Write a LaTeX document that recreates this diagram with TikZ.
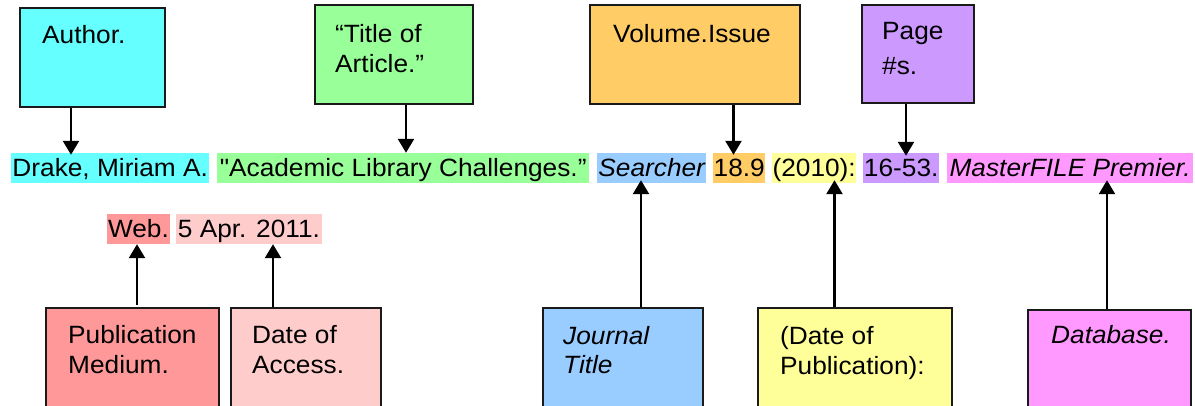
\documentclass[tikz,border=0pt]{standalone}
\usepackage{fontspec}
\setmainfont{Liberation Sans}[FakeStretch=1.05, Ligatures=TeXOff]
\usetikzlibrary{arrows.meta}
\definecolor{cCyan}{HTML}{66FFFF}
\definecolor{cGreen}{HTML}{99FF99}
\definecolor{cOrange}{HTML}{FFCC66}
\definecolor{cPurple}{HTML}{CC99FF}
\definecolor{cBlue}{HTML}{99CCFF}
\definecolor{cYellow}{HTML}{FFFF99}
\definecolor{cMagenta}{HTML}{FF99FF}
\definecolor{cRed}{HTML}{FF9999}
\definecolor{cPink}{HTML}{FFCCCC}
\definecolor{cBorder}{HTML}{1A1A1A}
\begin{document}
\begin{tikzpicture}[x=1pt,y=-1pt,
  box/.style={draw=cBorder, line width=2pt, rectangle, inner sep=0pt},
  lbl/.style={anchor=north west, inner sep=0pt, align=left, font=\fontsize{25}{30}\selectfont},
  hl/.style={anchor=base west, inner xsep=0pt, inner ysep=0pt, text height=24pt, text depth=6pt, font=\fontsize{25}{30}\selectfont},
  arr/.style={line width=2.5pt, black, -{Triangle[width=16pt,length=14pt]}}]
\useasboundingbox (0,0) rectangle (1195,406);
\clip (0,0) rectangle (1195,406);
\fill[white] (0,0) rectangle (1195,406);

% top boxes
\node[box, fill=cCyan,   minimum width=145pt, minimum height=99pt] (author) at (92.5,57.5) {};
\node[box, fill=cGreen,  minimum width=158pt, minimum height=99pt] (title)  at (394,54.5) {};
\node[box, fill=cOrange, minimum width=210pt, minimum height=99pt] (volume) at (695,54.5) {};
\node[box, fill=cPurple, minimum width=112pt, minimum height=98pt] (page)   at (918,54) {};
\node[lbl] (authorT) at (42,25) {Author.};
\node[lbl] (titleT)  at (335,24) {“Title of\\Article.”};
\node[lbl] (volumeT) at (613,24) {Volume.Issue};
\node[lbl] (pageT)   at (882,22) {Page\\[5pt]\#s.};

% bottom boxes
\node[box, fill=cRed,     minimum width=173pt, minimum height=122pt] (pub)      at (132.5,369) {};
\node[box, fill=cPink,    minimum width=150pt, minimum height=122pt] (access)   at (306,369) {};
\node[box, fill=cBlue,    minimum width=160pt, minimum height=122pt] (journal)  at (623,369) {};
\node[box, fill=cYellow,  minimum width=194pt, minimum height=122pt] (datepub)  at (855,369) {};
\node[box, fill=cMagenta, minimum width=163pt, minimum height=120pt] (database) at (1109.5,370) {};
\node[lbl] (pubT)      at (68,325)  {Publication\\Medium.};
\node[lbl] (accessT)   at (252,325) {Date of\\Access.};
\node[lbl, font=\fontsize{25}{29}\selectfont\itshape] (journalT) at (563,326) {Journal\\Title};
\node[lbl] (datepubT)  at (780,326) {(Date of\\Publication):};
\node[lbl, font=\fontsize{25}{30}\selectfont\itshape] (databaseT) at (1051,325) {Database.};

% citation line
\node[hl, fill=cCyan,    minimum width=198pt] (drake)    at (11,177)  {Drake, Miriam A.};
\node[hl, fill=cGreen,   minimum width=372pt] (academic) at (217,177) {"Academic Library Challenges.”};
\node[hl, fill=cBlue,    minimum width=109pt] (searcher) at (597,177) {\itshape Searcher};
\node[hl, fill=cOrange,  minimum width=52pt]  (vol)      at (713,177) {18.9};
\node[hl, fill=cYellow,  minimum width=84pt]  (year)     at (772,177) {(2010):};
\node[hl, fill=cPurple,  minimum width=76pt]  (pages)    at (863,177) {16-53.};
\node[hl, fill=cMagenta, minimum width=246pt] (db)       at (947,177) {\itshape MasterFILE Premier.};

% web line
\node[hl, fill=cRed,  minimum width=62.5pt]  (web)  at (107,238) {Web.};
\node[hl, fill=cPink, minimum width=145.5pt] (date) at (176,238) {5 Apr. 2011.};

% arrow x positions
\coordinate (xa) at (71,0);
\coordinate (xb) at (406,0);
\coordinate (xc) at (733.5,0);
\coordinate (xd) at (906,0);
\coordinate (xe) at (641,0);
\coordinate (xf) at (834.5,0);
\coordinate (xg) at (1107,0);
\coordinate (xh) at (137,0);
\coordinate (xi) at (273,0);

\draw[arr] (author.south -| xa) -- ([yshift=-2pt]drake.north -| xa);
\draw[arr] (title.south -| xb)  -- (academic.north -| xb);
\draw[arr] (volume.south -| xc) -- ([yshift=-2pt]vol.north -| xc);
\draw[arr] (page.south -| xd)   -- ([yshift=-3pt]pages.north -| xd);
\draw[arr] (journal.north -| xe)  -- ([yshift=3pt]searcher.south -| xe);
\draw[arr] (datepub.north -| xf)  -- ([yshift=3pt]year.south -| xf);
\draw[arr] (database.north -| xg) -- ([yshift=3pt]db.south -| xg);
\draw[arr] ([yshift=2pt]pub.north -| xh) -- (web.south -| xh);
\draw[arr] (access.north -| xi) -- (date.south -| xi);
\end{tikzpicture}
\end{document}
